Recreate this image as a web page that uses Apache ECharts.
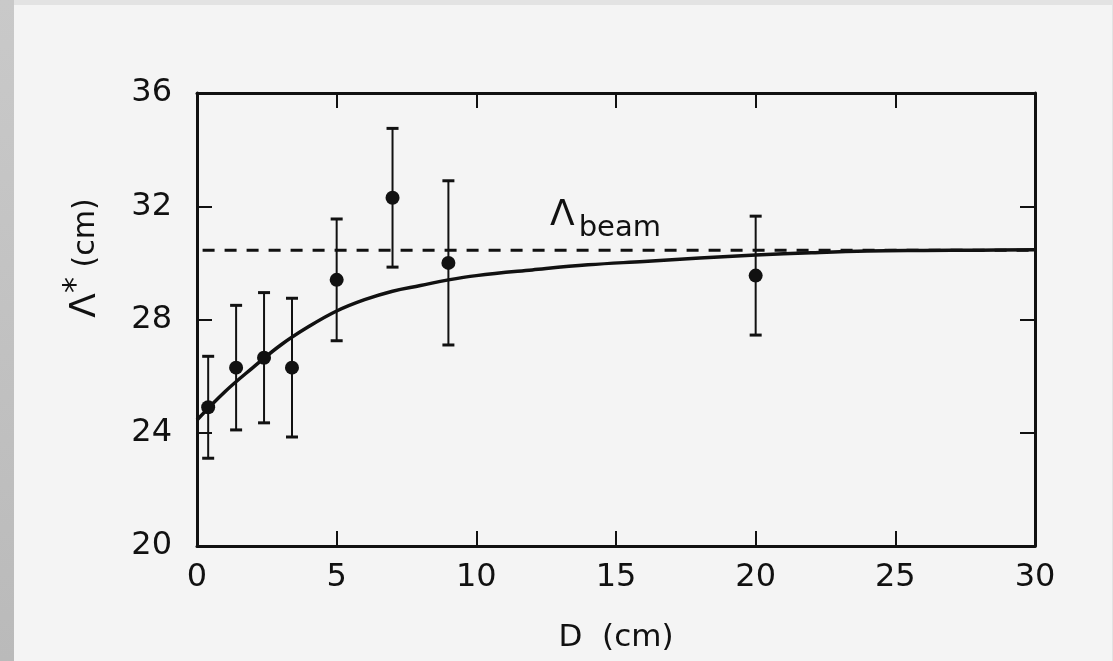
<!DOCTYPE html>
<html>
<head>
<meta charset="utf-8">
<script src="https://cdn.jsdelivr.net/npm/echarts@6/dist/echarts.min.js"></script>
<style>
  html, body { margin: 0; padding: 0; background: #e3e3e3; width: 1113px; height: 661px; overflow: hidden; }
  .strip { position: absolute; left: 0; top: 0; width: 14px; height: 661px; background: linear-gradient(#c9c9c9, #bababa); }
  .paper { position: absolute; left: 14px; top: 5px; width: 1098px; height: 656px; background: #f4f4f4; }
</style>
</head>
<body>
<div class="strip"></div>
<div class="paper" id="main"></div>
<script>
// measured points: D (cm), Λ* (cm), error half-width
const dVals = [0.4, 1.4, 2.4, 3.4, 5.0, 7.0, 9.0, 20.0];
const lambdaVals = [24.9, 26.3, 26.65, 26.3, 29.4, 32.3, 30.0, 29.55];
const errVals = [1.8, 2.2, 2.3, 2.45, 2.15, 2.45, 2.9, 2.1];

// fitted curve
const curveD = [0, 1, 2, 3, 4, 5, 6, 7, 8, 9, 10, 12, 14, 16, 18, 20, 22, 24, 26, 28, 30];
const curveVals = [24.45, 25.45, 26.3, 27.1, 27.75, 28.3, 28.7, 29.0, 29.2, 29.4, 29.55, 29.75, 29.93, 30.05, 30.17, 30.28, 30.36, 30.42, 30.44, 30.45, 30.46];

// beam value (dashed line)
const beamD = [0.2, 30];
const beamVal = 30.45;

const xTicks = [0, 5, 10, 15, 20, 25, 30];
const yTicks = [20, 24, 28, 32, 36];

const font = '"DejaVu Sans", sans-serif';
const ink = '#111';

let chartInstance = echarts.init(document.getElementById('main'));

let points = dVals.map((d, i) => [d, lambdaVals[i]]);
let bars = dVals.map((d, i) => [d, lambdaVals[i] - errVals[i], lambdaVals[i] + errVals[i]]);
let curve = curveD.map((d, i) => [d, curveVals[i]]);
let beam = beamD.map(d => [d, beamVal]);

// every axis gets its own objects, ticks point into the frame
let makeAxis = function (extra) {
  return Object.assign({
    type: 'value',
    splitLine: { show: false },
    axisLine: { show: true, onZero: false, lineStyle: { color: ink, width: 3 } },
    axisTick: { show: true, inside: true, length: 15, lineStyle: { color: ink, width: 2 } }
  }, extra);
};

const option = {
  animation: false,
  backgroundColor: 'transparent',
  grid: { left: 183, right: 77, top: 88, bottom: 115 },
  xAxis: [
    makeAxis({
      position: 'bottom',
      min: xTicks[0], max: xTicks[xTicks.length - 1], interval: 5,
      name: 'D  (cm)',
      nameLocation: 'middle',
      nameGap: 76,
      nameTextStyle: { fontFamily: font, fontSize: 31, color: ink },
      axisLabel: { margin: 16, fontFamily: font, fontSize: 32, color: ink }
    }),
    makeAxis({
      position: 'top',
      min: xTicks[0], max: xTicks[xTicks.length - 1], interval: 5,
      axisLabel: { show: false }
    })
  ],
  yAxis: [
    makeAxis({
      position: 'left',
      min: yTicks[0], max: yTicks[yTicks.length - 1], interval: 4,
      axisLabel: { margin: 25, fontFamily: font, fontSize: 32, color: ink }
    }),
    makeAxis({
      position: 'right',
      min: yTicks[0], max: yTicks[yTicks.length - 1], interval: 4,
      axisLabel: { show: false }
    })
  ],
  series: [
    {
      // dashed beam line
      type: 'line',
      data: beam,
      symbol: 'none',
      lineStyle: { color: ink, width: 3, type: [12, 10] },
      z: 2
    },
    {
      // fitted curve
      type: 'line',
      data: curve,
      smooth: 0.4,
      symbol: 'none',
      lineStyle: { color: ink, width: 3.5 },
      z: 3
    },
    {
      // error bars
      type: 'custom',
      data: bars,
      renderItem: function (params, api) {
        let x = api.value(0);
        let lo = api.coord([x, api.value(1)]);
        let hi = api.coord([x, api.value(2)]);
        let cap = 6;
        return {
          type: 'group',
          children: [
            { type: 'line', shape: { x1: lo[0], y1: lo[1], x2: hi[0], y2: hi[1] }, style: { stroke: ink, lineWidth: 2 } },
            { type: 'line', shape: { x1: lo[0] - cap, y1: lo[1], x2: lo[0] + cap, y2: lo[1] }, style: { stroke: ink, lineWidth: 3 } },
            { type: 'line', shape: { x1: hi[0] - cap, y1: hi[1], x2: hi[0] + cap, y2: hi[1] }, style: { stroke: ink, lineWidth: 3 } }
          ]
        };
      },
      z: 4
    },
    {
      type: 'scatter',
      data: points,
      symbol: 'circle',
      symbolSize: 14,
      itemStyle: { color: ink, opacity: 1 },
      z: 5
    }
  ],
  graphic: [
    {
      type: 'text',
      left: 536,
      top: 193,
      style: {
        text: '{L|Λ}{b|beam}',
        rich: {
          L: { fontFamily: font, fontSize: 36, fill: ink, verticalAlign: 'top' },
          b: { fontFamily: font, fontSize: 29, fill: ink, padding: [16, 0, 0, 4] }
        }
      }
    },
    {
      type: 'text',
      x: 72,
      y: 253,
      rotation: Math.PI / 2,
      style: {
        text: '{L|Λ}{s|*}{n| (cm)}',
        align: 'center',
        verticalAlign: 'middle',
        rich: {
          L: { fontFamily: font, fontSize: 36, fill: ink },
          s: { fontFamily: font, fontSize: 32, fill: ink, padding: [0, 0, 18, 0] },
          n: { fontFamily: font, fontSize: 30, fill: ink }
        }
      }
    }
  ]
};

chartInstance.setOption(option);
</script>
</body>
</html>
